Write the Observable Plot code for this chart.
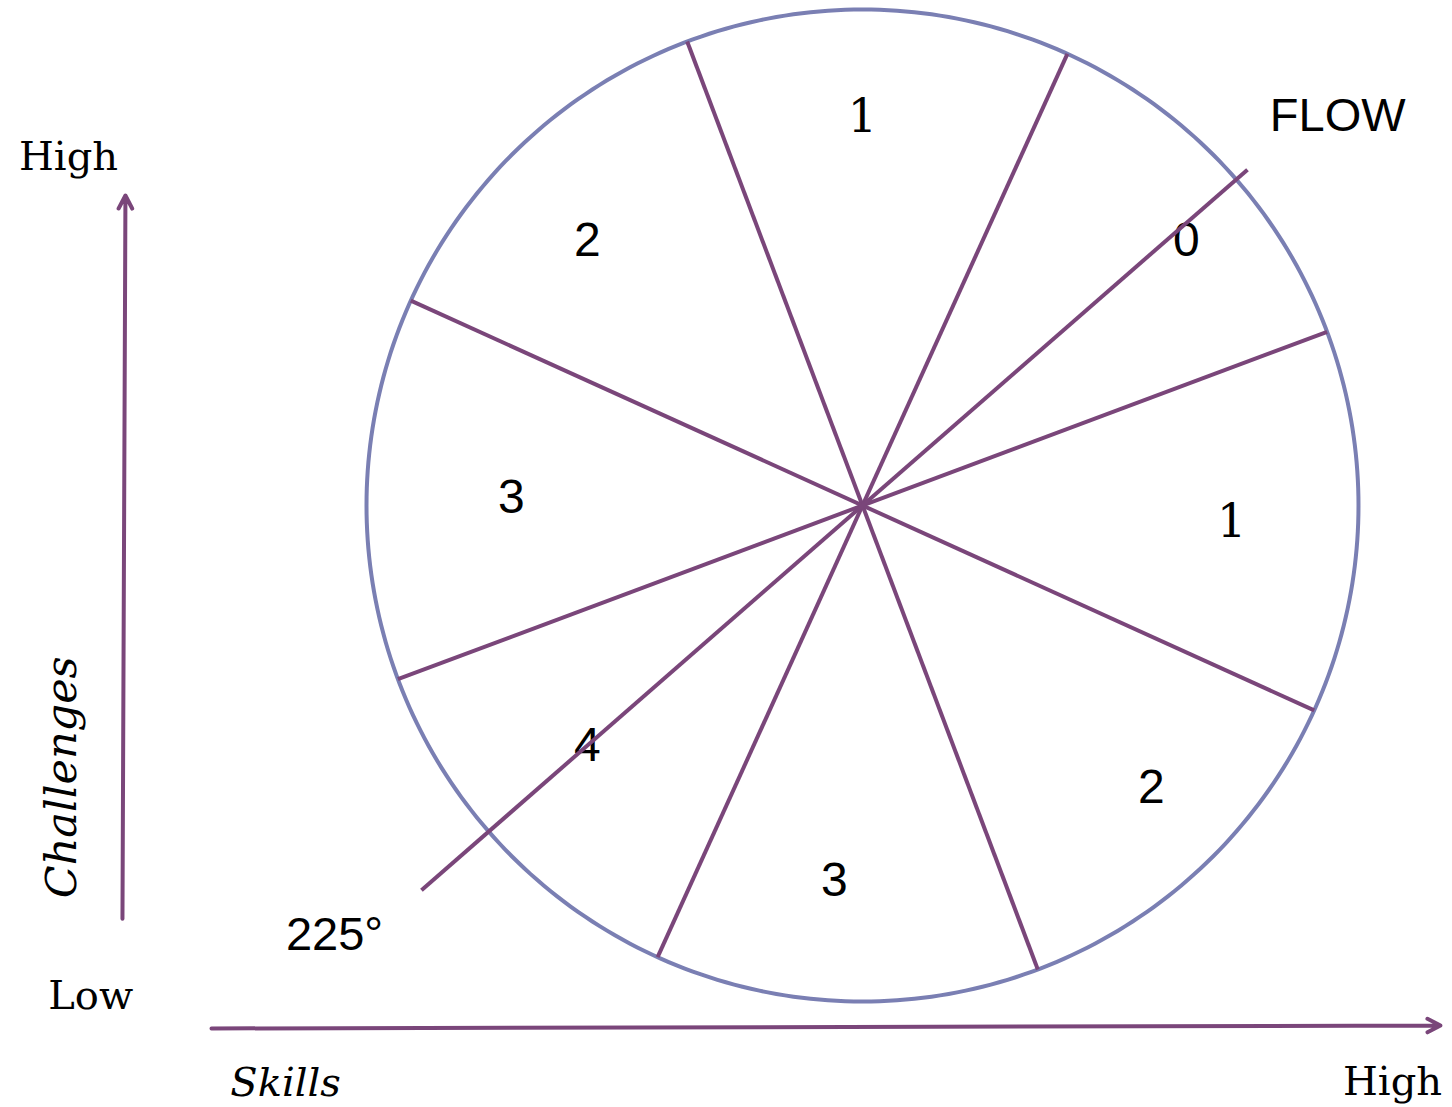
<!DOCTYPE html>
<html>
<head>
<meta charset="utf-8">
<script src="https://cdn.jsdelivr.net/npm/d3@7"></script>
<script src="https://cdn.jsdelivr.net/npm/@observablehq/plot@0.6"></script>
<style>
  html, body { margin: 0; padding: 0; background: #ffffff; }
  #chart svg { display: block; }
</style>
</head>
<body>
<div id="chart"></div>
<script>
// ---- Data (model units: circle centre at 0,0, radius 1; angles in degrees, counter-clockwise from east) ----
const spokeAngles = [20.5, 65.6, 110.7, 155.6];           // each spoke crosses the whole circle
const flowAngle = 41.1;                                   // the "FLOW" / 225° diagonal
const flowExtent = [-1.18, 1.03];                         // radial extent of the diagonal
const sectorLabels = ["1", "0", "1", "2", "3", "4", "3", "2"];
const sectorAngles = [90, 39.3, -2.6, -44.3, 265.7, 221.1, 178.7, 136.1];
const sectorRadii  = [0.782, 0.844, 0.745, 0.814, 0.758, 0.736, 0.708, 0.770];
const axisNames = ["Challenges", "Skills"];
const axisEnds = ["Low", "High", "High"];

// ---- Layout of the model space in the picture ----
const W = 1452, H = 1107, CX = 862, CY = 505, R = 496;
const rad = d => d * Math.PI / 180;

const circlePts = d3.range(0, 361, 1).map(a => ({x: Math.cos(rad(a)), y: Math.sin(rad(a))}));
const spokes = spokeAngles.map(a => ({
  x1: Math.cos(rad(a)), y1: Math.sin(rad(a)),
  x2: -Math.cos(rad(a)), y2: -Math.sin(rad(a))
}));
const flow = [{
  x1: flowExtent[0] * Math.cos(rad(flowAngle)), y1: flowExtent[0] * Math.sin(rad(flowAngle)),
  x2: flowExtent[1] * Math.cos(rad(flowAngle)), y2: flowExtent[1] * Math.sin(rad(flowAngle))
}];
const sectors = sectorLabels.map((t, i) => ({
  t, x: sectorRadii[i] * Math.cos(rad(sectorAngles[i])), y: sectorRadii[i] * Math.sin(rad(sectorAngles[i]))
}));

// axis arrows & labels (model units)
const arrows = [
  {x1: -1.492, y1: -0.833, x2: -1.486, y2: 0.625},
  {x1: -1.3125, y1: -1.0544, x2: 1.1653, y2: -1.0484}
];
const serifLabels = [
  {t: axisEnds[1], x: -1.6008, y: 0.703},
  {t: axisEnds[0], x: -1.556, y: -0.99},
  {t: axisEnds[2], x: 1.0685, y: -1.162}
];
const challengesLabel = [{t: axisNames[0], x: -1.613, y: -0.548}];
const skillsLabel = [{t: axisNames[1], x: -1.1633, y: -1.165}];
const sansLabels = [
  {t: "FLOW", x: 0.958, y: 0.7855},
  {t: "225°", x: -1.0645, y: -0.865}
];

const purple = "#7a467a";
const circleBlue = "#7a7fb3";
const serif = "'DejaVu Serif', 'Liberation Serif', serif";
const sans = "'Liberation Sans', Arial, Helvetica, sans-serif";

const chart = Plot.plot({
  width: W, height: H,
  margin: 0,
  x: {domain: [-CX / R, (W - CX) / R], axis: null},
  y: {domain: [-(H - CY) / R, CY / R], axis: null},
  marks: [
    Plot.line(circlePts, {x: "x", y: "y", stroke: circleBlue, strokeWidth: 4}),
    Plot.link(spokes, {x1: "x1", y1: "y1", x2: "x2", y2: "y2", stroke: purple, strokeWidth: 4}),
    Plot.text(sectors.filter(d => d.t === "1"), {x: "x", y: "y", text: "t", fontFamily: serif, fontSize: 46, fill: "#000"}),
    Plot.text(sectors.filter(d => d.t !== "1"), {x: "x", y: "y", text: "t", fontFamily: sans, fontSize: 48, fill: "#000"}),
    Plot.link(flow, {x1: "x1", y1: "y1", x2: "x2", y2: "y2", stroke: purple, strokeWidth: 4}),
    Plot.arrow(arrows, {x1: "x1", y1: "y1", x2: "x2", y2: "y2", stroke: purple, strokeWidth: 4, headLength: 5.5, headAngle: 55}),
    Plot.text(serifLabels, {x: "x", y: "y", text: "t", fontFamily: serif, fontSize: 40, fill: "#000"}),
    Plot.text(challengesLabel, {x: "x", y: "y", text: "t", rotate: -90, fontFamily: serif, fontStyle: "italic", fontSize: 43, fill: "#000"}),
    Plot.text(skillsLabel, {x: "x", y: "y", text: "t", fontFamily: serif, fontStyle: "italic", fontSize: 40, fill: "#000"}),
    Plot.text(sansLabels, {x: "x", y: "y", text: "t", fontFamily: sans, fontSize: 47, fill: "#000"})
  ]
});
document.getElementById("chart").appendChild(chart);
</script>
</body>
</html>
